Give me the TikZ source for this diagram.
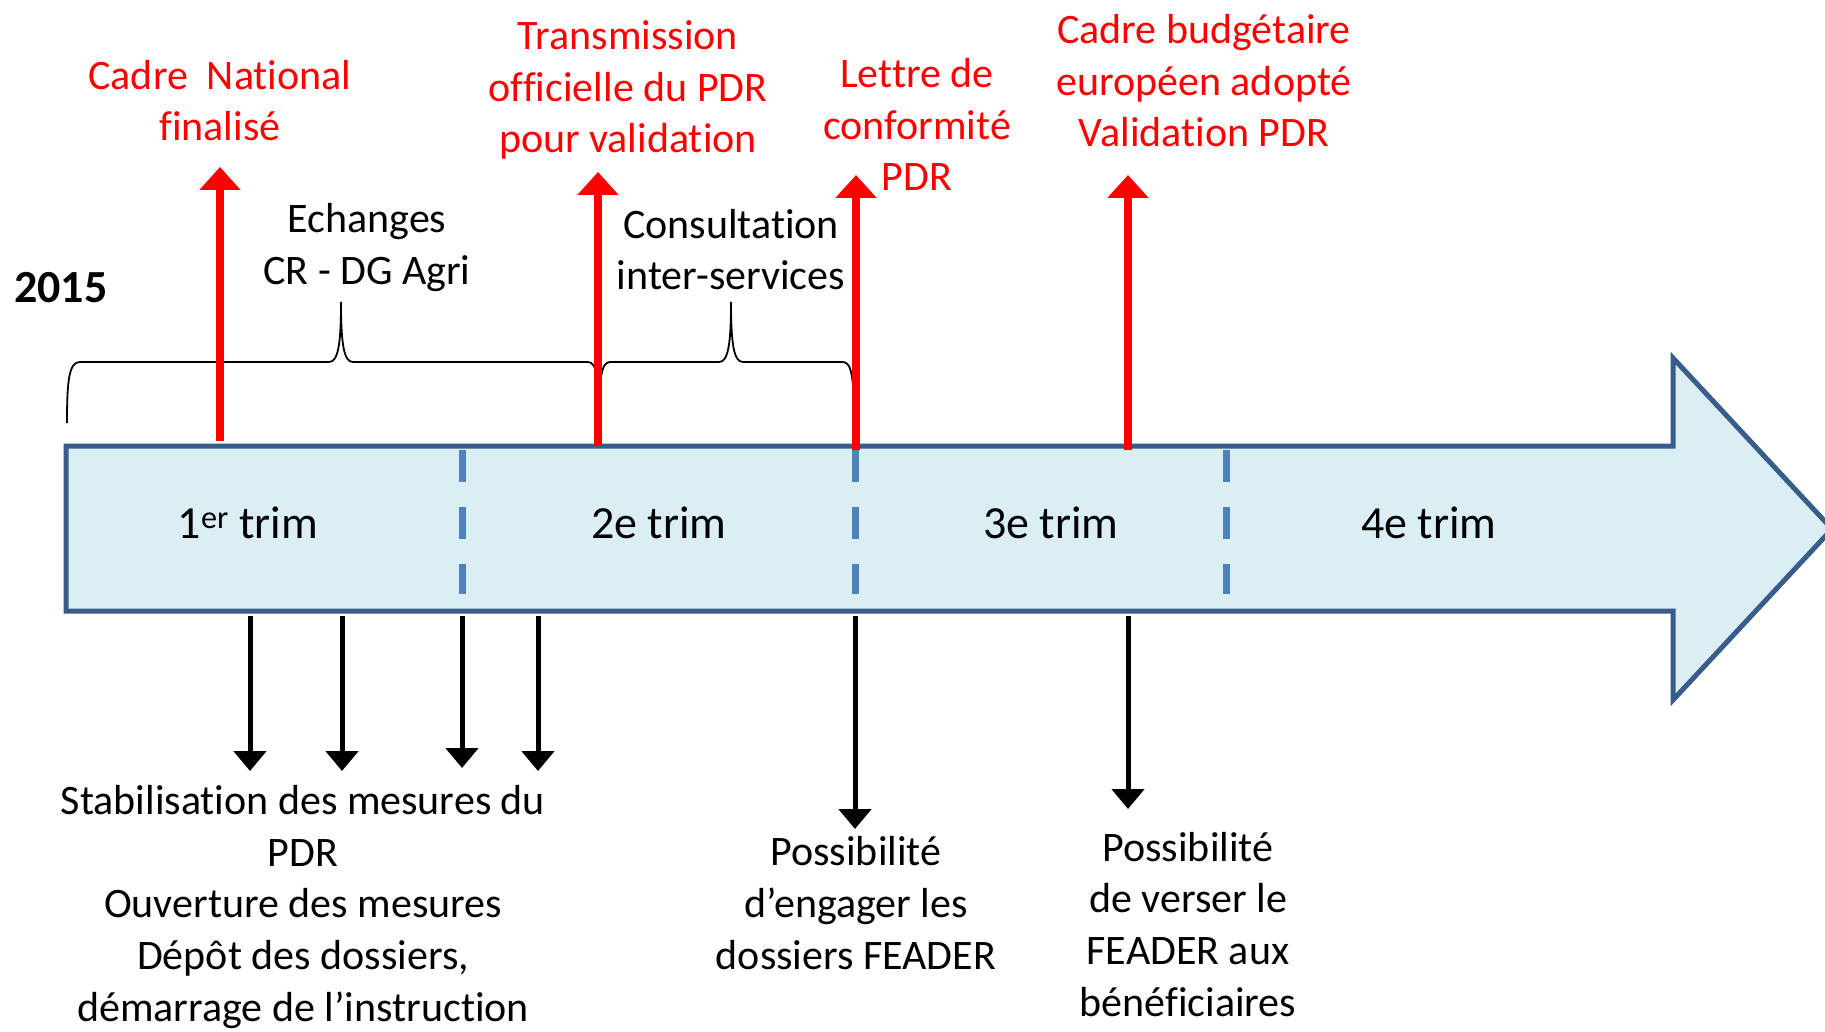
\documentclass[tikz,border=0pt]{standalone}
\usepackage{fontspec}
\setmainfont{Carlito}[Ligatures=NoCommon]
\usetikzlibrary{arrows.meta}
\definecolor{pptred}{HTML}{FF0000}
\definecolor{bodyfill}{HTML}{DBEEF4}
\definecolor{bodyline}{HTML}{385D8A}
\definecolor{dashblue}{HTML}{4F81BD}
\tikzset{
 lbl/.style={align=center, inner sep=0pt, anchor=base, font=\fontsize{42}{51.6}\selectfont},
 redlbl/.style={lbl, text=pptred},
 trimlbl/.style={inner sep=0pt, anchor=base, font=\fontsize{46}{56}\selectfont},
 redarrow/.style={draw=pptred, line width=8pt, -{Triangle[length=23pt,width=40pt]}},
 blackarrow/.style={draw=black, line width=5pt, -{Triangle[length=20pt,width=32pt]}},
 quarterline/.style={draw=dashblue, line width=7pt, dash pattern=on 32pt off 25pt},
 bracestyle/.style={draw=black, line width=1.8pt},
 bodystyle/.style={fill=bodyfill, draw=bodyline, line width=5pt},
}
\begin{document}
\begin{tikzpicture}[x=1pt,y=-1pt]
\useasboundingbox (0,0) rectangle (1825,1032);
\path[fill=white] (0,0) rectangle (1825,1032);

% braces
\draw[bracestyle] (67,423) .. controls (67,380) and (69,362) .. (80,362) -- (329,362)
  .. controls (338,362) and (341,345) .. (341,302)
  .. controls (341,345) and (344,362) .. (353,362) -- (588,362)
  .. controls (597,362) and (599,380) .. (599,423);
\draw[bracestyle] (599,423) .. controls (599,380) and (601,362) .. (610,362) -- (719,362)
  .. controls (728,362) and (731,345) .. (731,302)
  .. controls (731,345) and (734,362) .. (743,362) -- (843,362)
  .. controls (852,362) and (854,380) .. (854,423);

% timeline body
\draw[bodystyle] (66,446) -- (1673,446) -- (1673,358) -- (1832,529) -- (1673,700) -- (1673,611) -- (66,611) -- cycle;

% quarter separators
\coordinate (q1a) at (462,450); \coordinate (q1b) at (462,594);
\coordinate (q2a) at (855,450); \coordinate (q2b) at (855,594);
\coordinate (q3a) at (1226,450); \coordinate (q3b) at (1226,594);
\draw[quarterline] (q1a) -- (q1b);
\draw[quarterline] (q2a) -- (q2b);
\draw[quarterline] (q3a) -- (q3b);

% quarter labels
\node[trimlbl] (t1) at (248,538) {1\textsuperscript{er} trim};
\node[trimlbl] (t2) at (659,538) {2e trim};
\node[trimlbl] (t3) at (1051,538) {3e trim};
\node[trimlbl] (t4) at (1429,538) {4e trim};

\node[inner sep=0pt, anchor=base west, font=\fontsize{46}{56}\selectfont\bfseries] (year) at (14,302) {2015};

% red milestones
\coordinate (r1a) at (220,441); \coordinate (r1b) at (220,167);
\coordinate (r2a) at (598,446); \coordinate (r2b) at (598,172);
\coordinate (r3a) at (856,450); \coordinate (r3b) at (856,175);
\coordinate (r4a) at (1128,450); \coordinate (r4b) at (1128,175);
\draw[redarrow] (r1a) -- (r1b);
\draw[redarrow] (r2a) -- (r2b);
\draw[redarrow] (r3a) -- (r3b);
\draw[redarrow] (r4a) -- (r4b);

% multi-line labels: placed at the baseline of their last line
\node[redlbl] (m1) at (220,141) {Cadre~ National\\finalisé};
\node[redlbl] (m2) at (628,153) {Transmission\\officielle du PDR\\pour validation};
\node[redlbl] (m3) at (917,191) {Lettre de\\conformité\\PDR};
\node[redlbl] (m4) at (1204,147) {Cadre budgétaire\\européen adopté\\Validation PDR};

\node[lbl] (e1) at (367,284) {Echanges\\CR - DG Agri};
\node[lbl] (e2) at (731,290) {Consultation\\inter-services};

% black arrows
\coordinate (b1a) at (250,616); \coordinate (b1b) at (250,771);
\coordinate (b2a) at (342,616); \coordinate (b2b) at (342,771);
\coordinate (b3a) at (462,616); \coordinate (b3b) at (462,768);
\coordinate (b4a) at (538,616); \coordinate (b4b) at (538,771);
\coordinate (b5a) at (855,616); \coordinate (b5b) at (855,829);
\coordinate (b6a) at (1128,616); \coordinate (b6b) at (1128,809);
\draw[blackarrow] (b1a) -- (b1b);
\draw[blackarrow] (b2a) -- (b2b);
\draw[blackarrow] (b3a) -- (b3b);
\draw[blackarrow] (b4a) -- (b4b);
\draw[blackarrow] (b5a) -- (b5b);
\draw[blackarrow] (b6a) -- (b6b);

\node[lbl] (d1) at (303,1021) {Stabilisation des mesures du\\PDR\\Ouverture des mesures\\Dépôt des dossiers,\\démarrage de l’instruction};
\node[lbl] (d2) at (856,969) {Possibilité\\d’engager les\\dossiers FEADER};
\node[lbl] (d3) at (1188,1016) {Possibilité\\de verser le\\FEADER aux\\bénéficiaires};
\end{tikzpicture}
\end{document}
